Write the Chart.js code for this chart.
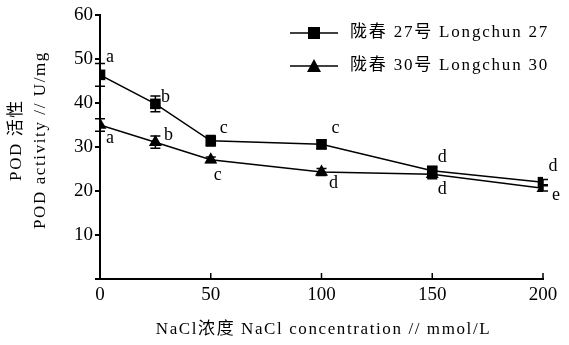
<!DOCTYPE html>
<html>
<head>
<meta charset="utf-8">
<script src="https://cdn.jsdelivr.net/npm/chart.js@4.4.0/dist/chart.umd.min.js"></script>
<style>
  html, body { margin: 0; padding: 0; background: #fff; }
  #wrap { width: 569px; height: 345px; }
</style>
</head>
<body>
<div id="wrap"><canvas id="c" width="569" height="345"></canvas></div>
<script>
// NaCl 浓度 (mmol/L)
const nacl = [0, 25, 50, 100, 150, 200];
// POD 活性 (U/mg)
const lc27 = [46.4, 39.8, 31.4, 30.6, 24.6, 22.0];
const lc27Err = [2.6, 1.8, 1.2, 1.0, 0.8, 0.6];
const lc30 = [35.0, 31.1, 27.1, 24.3, 23.8, 20.6];
const lc30Err = [1.4, 1.4, 0.6, 0.8, 1.0, 0.6];
// 显著性字母
const lc27Letters = ['a', 'b', 'c', 'c', 'd', 'd'];
const lc30Letters = ['a', 'b', 'c', 'd', 'd', 'e'];
const yTicks = [0, 10, 20, 30, 40, 50, 60];
const xTicks = [0, 50, 100, 150, 200];

const serif = '"Liberation Serif", "Noto Sans CJK SC", serif';

// 字母偏移 (像素)
const off27 = [[10, -18], [10, -7], [13, -13], [14, -16], [10, -13], [10, -16]];
const off30 = [[10, 13], [13, -7], [7, 16], [12, 11], [10, 15], [13, 7]];

const extras = {
  id: 'extras',
  afterDatasetsDraw(chart) {
    const ctx = chart.ctx;
    const xs = chart.scales.x, ys = chart.scales.y;
    ctx.save();
    ctx.strokeStyle = '#000';
    ctx.lineWidth = 1.5;
    // 误差线
    [[lc27, lc27Err], [lc30, lc30Err]].forEach(([vals, errs]) => {
      vals.forEach((v, i) => {
        const px = xs.getPixelForValue(nacl[i]);
        const top = ys.getPixelForValue(v + errs[i]);
        const bot = ys.getPixelForValue(v - errs[i]);
        ctx.beginPath();
        ctx.moveTo(px, top); ctx.lineTo(px, bot);
        ctx.moveTo(px - 5, top); ctx.lineTo(px + 5, top);
        ctx.moveTo(px - 5, bot); ctx.lineTo(px + 5, bot);
        ctx.stroke();
      });
    });
    // x 轴刻度（向内）
    xTicks.forEach(t => {
      const px = xs.getPixelForValue(t);
      ctx.beginPath();
      ctx.moveTo(px, ys.bottom); ctx.lineTo(px, ys.bottom - 6);
      ctx.stroke();
    });
    // 字母
    ctx.fillStyle = '#000';
    ctx.font = '18px ' + serif;
    ctx.textAlign = 'center';
    ctx.textBaseline = 'middle';
    [[lc27, lc27Letters, off27], [lc30, lc30Letters, off30]].forEach(([vals, lets, offs]) => {
      vals.forEach((v, i) => {
        const px = xs.getPixelForValue(nacl[i]) + offs[i][0];
        const py = ys.getPixelForValue(v) + offs[i][1];
        ctx.fillText(lets[i], px, py);
      });
    });
    // 图例
    ctx.letterSpacing = '1.8px';
    ctx.font = '17px ' + serif;
    const rows = [['陇春 27号 Longchun 27', 'rect'], ['陇春 30号 Longchun 30', 'triangle']];
    rows.forEach(([label, shape], r) => {
      const y = 33 + r * 33;
      ctx.beginPath();
      ctx.moveTo(290, y); ctx.lineTo(338, y);
      ctx.stroke();
      ctx.beginPath();
      if (shape === 'rect') {
        ctx.rect(308, y - 6, 12, 12);
      } else {
        ctx.moveTo(314, y - 7); ctx.lineTo(321, y + 6); ctx.lineTo(307, y + 6); ctx.closePath();
      }
      ctx.fill();
      ctx.textAlign = 'left';
      ctx.fillText(label, 350, y);
    });
    // 坐标轴标题
    ctx.textAlign = 'center';
    ctx.letterSpacing = '1.6px';
    ctx.fillText('NaCl浓度 NaCl concentration // mmol/L', (xs.left + xs.right) / 2 + 2, 330);
    ctx.save();
    ctx.translate(0, 140);
    ctx.rotate(-Math.PI / 2);
    ctx.fillText('POD 活性', 0, 17);
    ctx.fillText('POD activity // U/mg', 0, 41);
    ctx.restore();
    ctx.restore();
  }
};

const ds = (label, data, style) => ({
  label,
  data: nacl.map((x, i) => ({ x, y: data[i] })),
  borderColor: '#000',
  backgroundColor: '#000',
  borderWidth: 1.5,
  pointStyle: style,
  pointRadius: 7.5,
  pointBorderWidth: 0,
  tension: 0
});

new Chart(document.getElementById('c'), {
  type: 'line',
  data: {
    datasets: [ds('陇春 27号 Longchun 27', lc27, 'rect'), ds('陇春 30号 Longchun 30', lc30, 'triangle')]
  },
  options: {
    responsive: false,
    animation: false,
    layout: { padding: { top: 15, right: 26, left: 0, bottom: 0 } },
    plugins: { legend: { display: false }, tooltip: { enabled: false } },
    scales: {
      x: {
        type: 'linear',
        min: 0, max: 200,
        afterBuildTicks: s => { s.ticks = xTicks.map(v => ({ value: v })); },
        afterFit: s => { s.height = 66; },
        border: { color: '#000', width: 2 },
        grid: { display: false, drawTicks: false },
        ticks: { color: '#000', font: { size: 19, family: serif }, padding: 5 }
      },
      y: {
        min: 0, max: 60,
        afterBuildTicks: s => { s.ticks = yTicks.map(v => ({ value: v })); },
        afterFit: s => { s.width = 100; },
        border: { color: '#000', width: 2 },
        grid: { drawOnChartArea: false, color: '#000', lineWidth: 2, tickLength: 5 },
        ticks: {
          color: '#000', font: { size: 19, family: serif }, padding: 2,
          callback: v => v === 0 ? '' : v
        }
      }
    }
  },
  plugins: [extras]
});
</script>
</body>
</html>
